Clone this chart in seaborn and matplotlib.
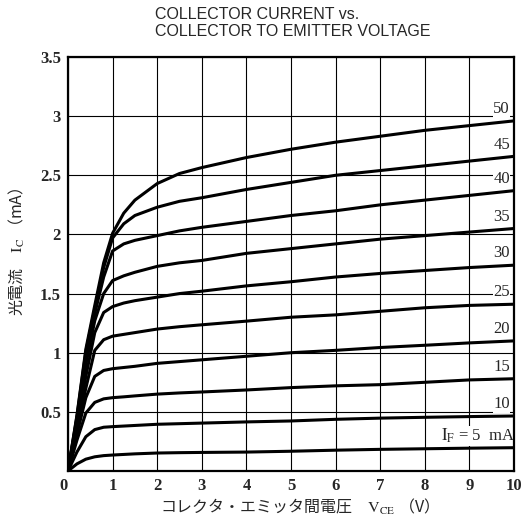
import numpy as np
import pandas as pd
import matplotlib
matplotlib.use('Agg')
import matplotlib.pyplot as plt
import seaborn as sns

# コレクタ・エミッタ間電圧 VCE (V)
vce = [0, 0.2, 0.4, 0.6, 0.8, 1.0, 1.25, 1.5, 2, 2.5, 3, 4, 5, 6, 7, 8, 9, 10]

# 順電流 IF (mA)
if_ma = [5, 10, 15, 20, 25, 30, 35, 40, 45, 50]

# 光電流 IC (mA), 曲線ごとに読み取り
ic_5 = [0, 0.06, 0.10, 0.12, 0.13, 0.135, 0.14, 0.145, 0.152, 0.155, 0.157, 0.16, 0.167, 0.176, 0.183, 0.188, 0.193, 0.197]
ic_10 = [0, 0.16, 0.29, 0.35, 0.37, 0.375, 0.38, 0.385, 0.395, 0.40, 0.405, 0.415, 0.423, 0.437, 0.447, 0.454, 0.46, 0.465]
ic_15 = [0, 0.26, 0.49, 0.58, 0.61, 0.62, 0.627, 0.635, 0.65, 0.66, 0.668, 0.685, 0.705, 0.72, 0.73, 0.75, 0.77, 0.78]
ic_20 = [0, 0.31, 0.62, 0.80, 0.85, 0.865, 0.875, 0.885, 0.91, 0.925, 0.94, 0.97, 1.0, 1.02, 1.044, 1.063, 1.083, 1.10]
ic_25 = [0, 0.35, 0.70, 1.02, 1.11, 1.14, 1.155, 1.17, 1.20, 1.22, 1.236, 1.267, 1.30, 1.32, 1.35, 1.38, 1.40, 1.41]
ic_30 = [0, 0.39, 0.80, 1.17, 1.34, 1.39, 1.42, 1.44, 1.47, 1.50, 1.52, 1.565, 1.60, 1.64, 1.67, 1.695, 1.72, 1.74]
ic_35 = [0, 0.42, 0.90, 1.27, 1.50, 1.61, 1.65, 1.68, 1.73, 1.76, 1.78, 1.84, 1.88, 1.92, 1.96, 1.99, 2.02, 2.05]
ic_40 = [0, 0.44, 0.97, 1.33, 1.64, 1.86, 1.92, 1.95, 1.99, 2.03, 2.06, 2.11, 2.16, 2.20, 2.25, 2.29, 2.33, 2.37]
ic_45 = [0, 0.46, 1.01, 1.37, 1.72, 1.97, 2.09, 2.16, 2.23, 2.28, 2.31, 2.38, 2.44, 2.50, 2.54, 2.58, 2.62, 2.66]
ic_50 = [0, 0.47, 1.03, 1.40, 1.76, 2.01, 2.18, 2.29, 2.43, 2.515, 2.565, 2.65, 2.72, 2.78, 2.83, 2.88, 2.92, 2.96]
ic_curves = [ic_5, ic_10, ic_15, ic_20, ic_25, ic_30, ic_35, ic_40, ic_45, ic_50]

curve_labels = ['$\\mathrm{I_F}$ = 5  mA', '10', '15', '20', '25', '30', '35', '40', '45', '50']

x_ticks = [0, 1, 2, 3, 4, 5, 6, 7, 8, 9, 10]
y_ticks = [0.5, 1, 1.5, 2, 2.5, 3, 3.5]
y_ticklabels = ['0.5', '1', '1.5', '2', '2.5', '3', '3.5']

rows = []
for i_f, ic in zip(if_ma, ic_curves):
    for v, c in zip(vce, ic):
        rows.append({'VCE': v, 'IC': c, 'IF': i_f})
data = pd.DataFrame(rows)

sns.set_style('white')
plt.rcParams['font.family'] = ['Noto Sans CJK JP', 'DejaVu Sans']
plt.rcParams['mathtext.fontset'] = 'stix'

fig = plt.figure(figsize=(5.31, 5.25), dpi=100)
ax = fig.add_axes([68 / 531, 1 - 471 / 525, 446 / 531, 414 / 525])

sns.lineplot(data=data, x='VCE', y='IC', hue='IF', units='IF', estimator=None,
             palette={k: 'black' for k in if_ma}, legend=False,
             linewidth=2.2, sort=False, ax=ax, zorder=3)

ax.set_xlim(0, 10)
ax.set_ylim(0, 3.5)
ax.set_xticks(x_ticks)
ax.set_yticks(y_ticks)
ax.set_yticklabels(y_ticklabels)
ax.set_axisbelow(True)
ax.grid(True, color='black', linewidth=0.8)
ax.tick_params(length=0, pad=5)
for s in ax.spines.values():
    s.set_color('black')
    s.set_linewidth(1.6)
    s.set_zorder(5)
for t in ax.get_xticklabels() + ax.get_yticklabels():
    t.set_fontfamily('Liberation Serif')
    t.set_fontweight('bold')
    t.set_fontsize(12)
ax.get_xticklabels()[0].set_horizontalalignment('right')

# 曲線ラベル (グリッドは隠すが曲線は隠さない)
for i, (lab, ic) in enumerate(zip(curve_labels, ic_curves)):
    xpos = 9.2 if i == 0 else 9.72
    ax.text(xpos, ic[-1] + 0.1, lab, ha='center', va='center',
            fontfamily='Liberation Serif', fontsize=12, zorder=2.5,
            bbox=dict(facecolor='white', edgecolor='none', pad=0.5))

ax.set_xlabel('コレクタ・エミッタ間電圧\u3000$\\mathrm{V_{CE}}$ （V）', fontsize=11.5)
ax.set_ylabel('光電流\u3000$\\mathrm{I_C}$ （mA）', fontsize=11.5)
ax.xaxis.set_label_coords(0.51, -0.062)
ax.yaxis.set_label_coords(-0.092, 0.53)

fig.text(155 / 531, 1 - 7 / 525, 'COLLECTOR CURRENT vs.\nCOLLECTOR TO EMITTER VOLTAGE',
         ha='left', va='top', fontfamily='Liberation Sans', fontsize=11.5,
         linespacing=1.15)

fig.savefig('out.png', dpi=100)
